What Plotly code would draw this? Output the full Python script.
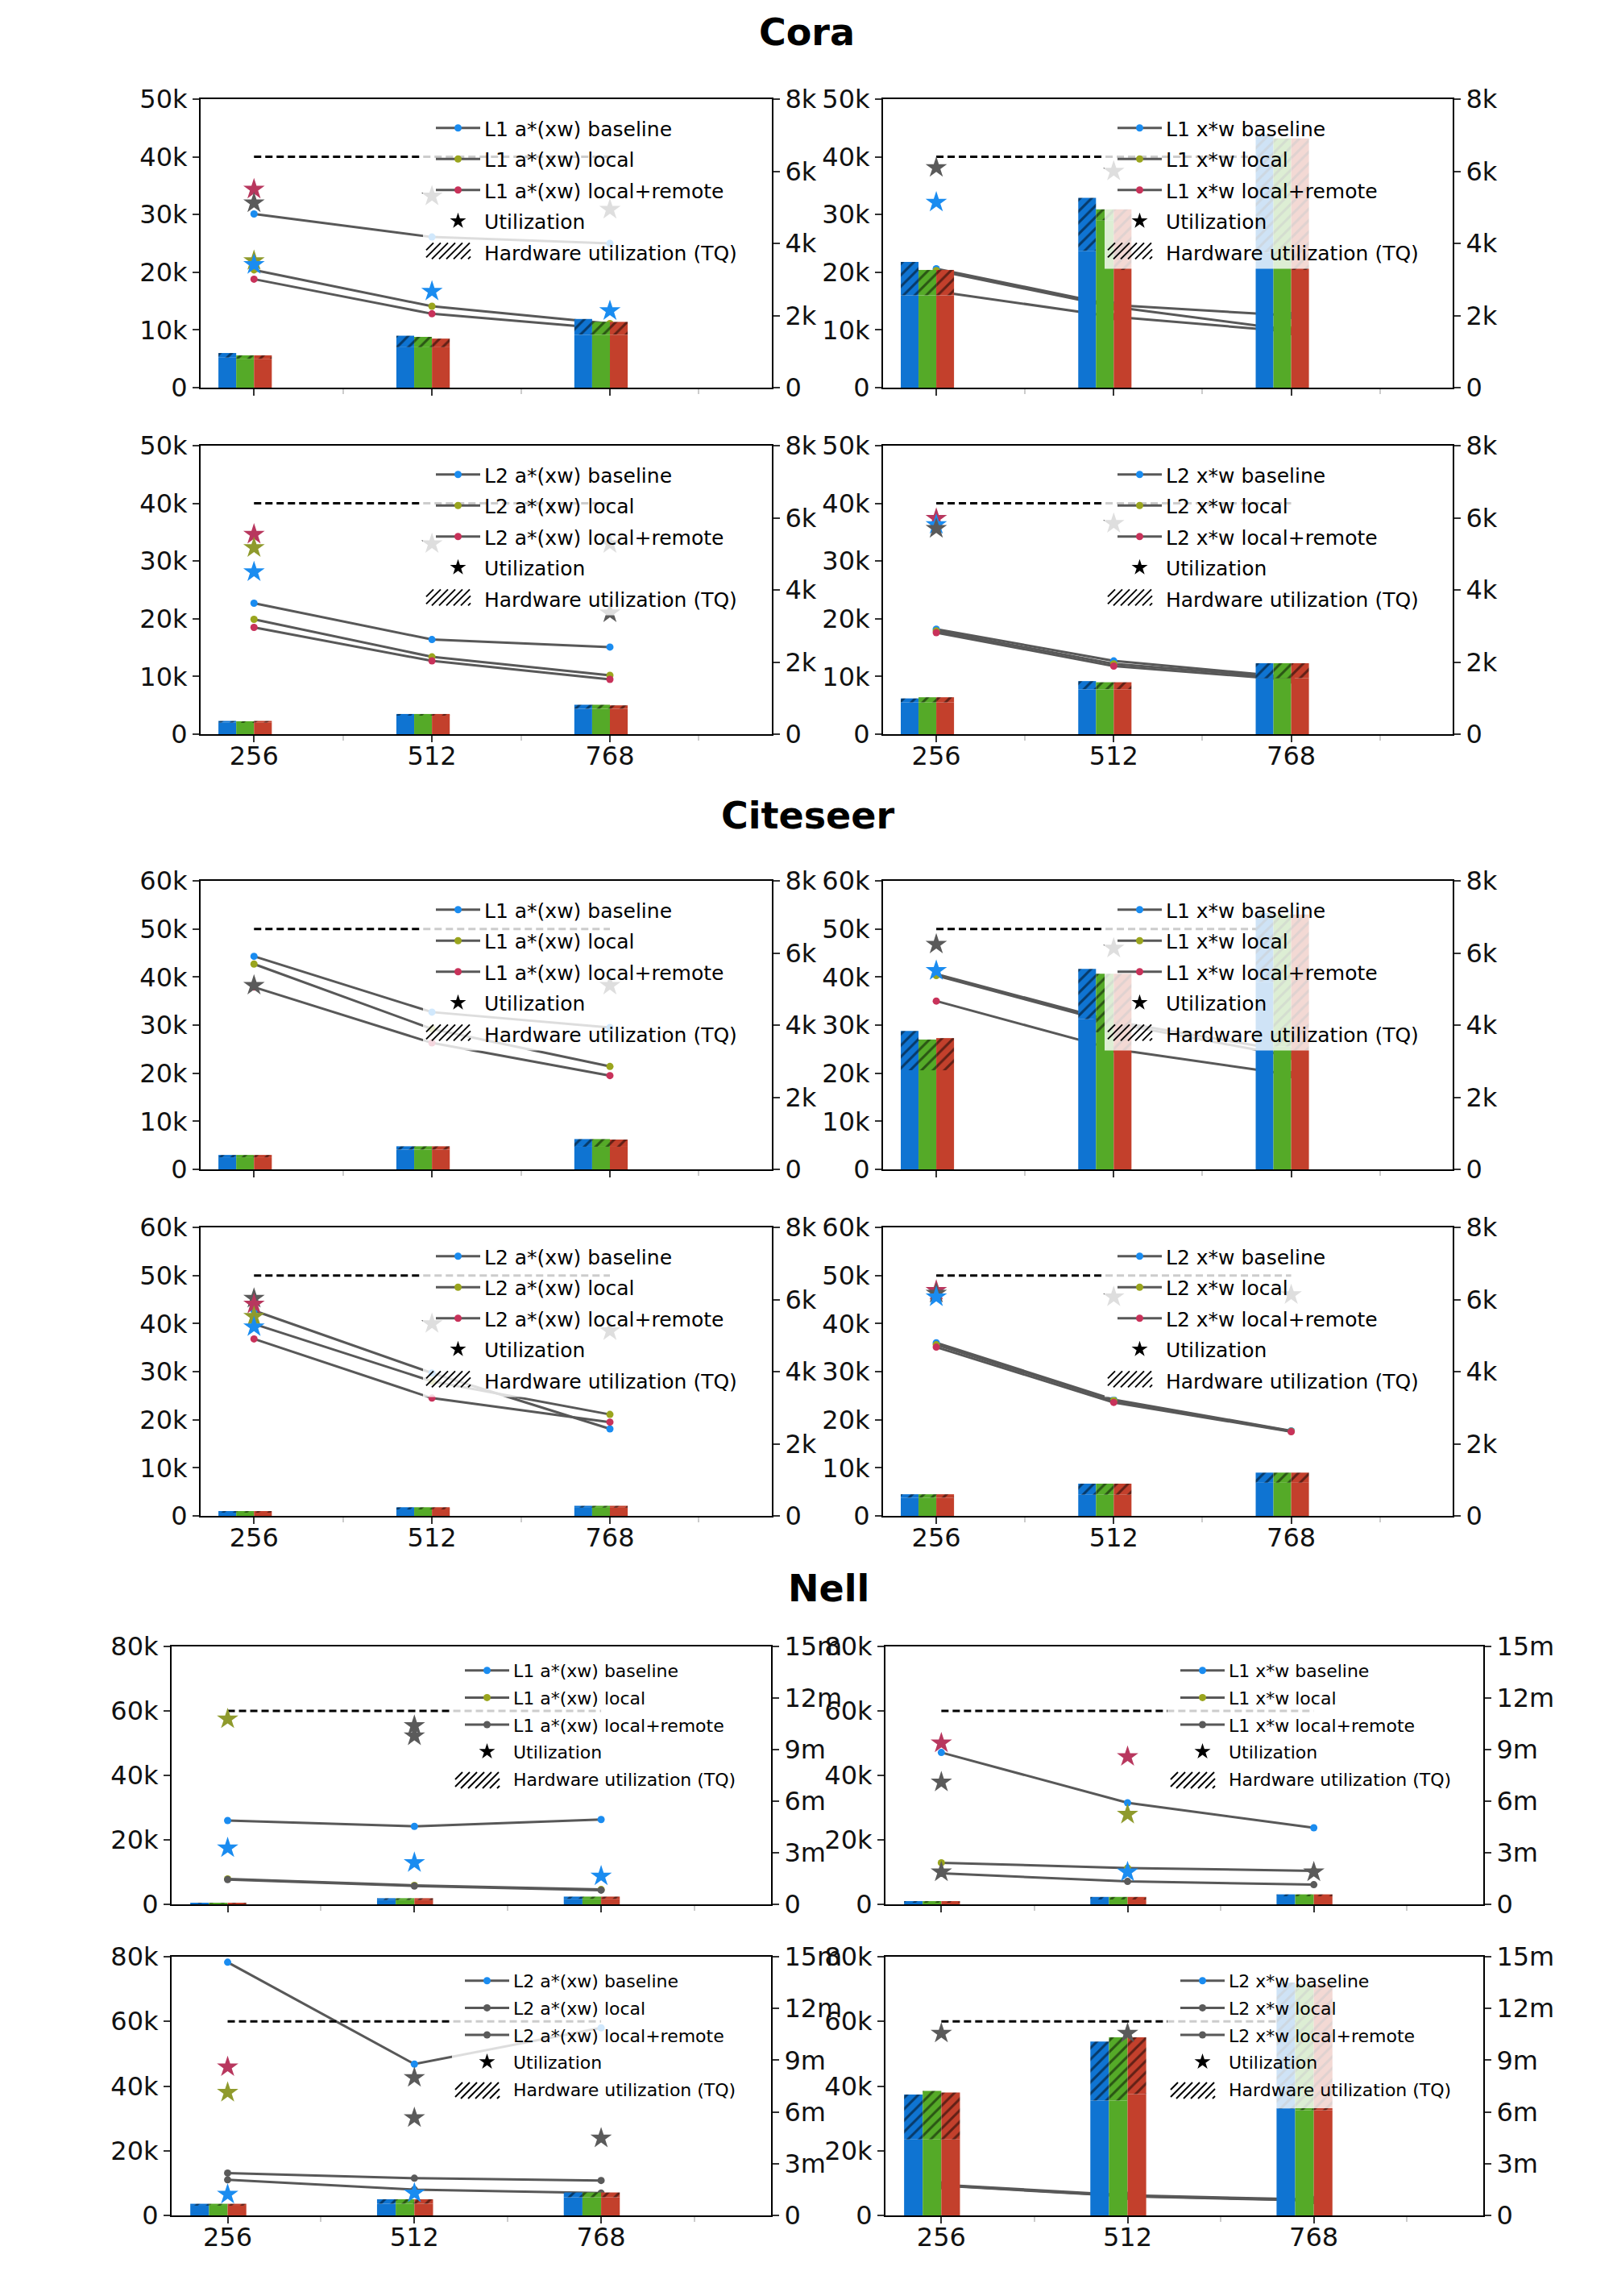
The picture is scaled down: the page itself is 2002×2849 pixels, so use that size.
import plotly.graph_objects as go

W, H = 2002, 2849
CATEGORIES = ["256", "512", "768"]
SERIES = ["baseline", "local", "local+remote"]

# ---------------- Cora ----------------
CORA_PEAK = 40000
CORA_L1_AXW_SOLID = [[5200, 7000, 9200], [5000, 7000, 9200], [5000, 7000, 9200]]
CORA_L1_AXW_TOTAL = [[6000, 9000, 11900], [5600, 8800, 11400], [5600, 8500, 11400]]
CORA_L1_AXW_LINE = [[30100, 26100, 25000], [20400, 14100, 11100], [18800, 12800, 10200]]
CORA_L1_AXW_STAR_X = ["256", "256", "256", "256", "512", "512", "768", "768"]
CORA_L1_AXW_STAR_Y = [5500, 5120, 3520, 3410, 2670, 5310, 2130, 4940]
CORA_L1_AXW_STAR_C = ["r", "k", "g", "b", "b", "k", "b", "k"]

CORA_L1_XW_SOLID = [[16000, 23700, 23400], [16000, 29000, 22500], [16000, 20400, 20400]]
CORA_L1_XW_TOTAL = [[21800, 32900, 43900], [20400, 30900, 43200], [20400, 30900, 43200]]
CORA_L1_XW_LINE = [[20600, 14300, 12500], [20300, 14000, 10000], [16700, 12300, 9700]]
CORA_L1_XW_STAR_X = ["256", "256", "512"]
CORA_L1_XW_STAR_Y = [6100, 5140, 6000]
CORA_L1_XW_STAR_C = ["k", "b", "k"]

CORA_L2_AXW_SOLID = [[2000, 3300, 4400], [2000, 3300, 4400], [2000, 3300, 4400]]
CORA_L2_AXW_TOTAL = [[2300, 3500, 5100], [2200, 3500, 5100], [2300, 3500, 5000]]
CORA_L2_AXW_LINE = [[22700, 16400, 15100], [19900, 13400, 10200], [18500, 12700, 9500]]
CORA_L2_AXW_STAR_X = ["256", "256", "256", "512", "768", "768"]
CORA_L2_AXW_STAR_Y = [5540, 5170, 4500, 5280, 5280, 3360]
CORA_L2_AXW_STAR_C = ["r", "g", "b", "k", "k", "k"]

CORA_L2_XW_SOLID = [[5500, 7800, 9700], [5500, 7800, 9700], [5500, 7800, 9700]]
CORA_L2_XW_TOTAL = [[6200, 9200, 12300], [6400, 9000, 12300], [6400, 9000, 12300]]
CORA_L2_XW_LINE = [[18200, 12700, 9900], [17900, 12200, 9700], [17600, 11800, 9400]]
CORA_L2_XW_STAR_X = ["256", "256", "256", "512"]
CORA_L2_XW_STAR_Y = [5980, 5810, 5700, 5840]
CORA_L2_XW_STAR_C = ["r", "b", "k", "k"]

# ---------------- Citeseer ----------------
CITESEER_PEAK = 50000
CITE_L1_AXW_SOLID = [[2500, 4100, 4700], [2500, 4100, 4700], [2500, 4100, 4700]]
CITE_L1_AXW_TOTAL = [[3000, 4800, 6300], [3000, 4800, 6300], [3000, 4800, 6200]]
CITE_L1_AXW_LINE = [[44300, 32700, 29500], [42700, 29200, 21400], [37900, 26300, 19500]]
CITE_L1_AXW_STAR_X = ["256", "768"]
CITE_L1_AXW_STAR_Y = [5100, 5100]
CITE_L1_AXW_STAR_C = ["k", "k"]

CITE_L1_XW_SOLID = [[20600, 31200, 39000], [20600, 28500, 25500], [20600, 24800, 24800]]
CITE_L1_XW_TOTAL = [[28800, 41700, 53300], [27000, 40700, 53000], [27300, 40700, 53000]]
CITE_L1_XW_LINE = [[40600, 30800, 24500], [40300, 30400, 23500], [35000, 25000, 19700]]
CITE_L1_XW_STAR_X = ["256", "256", "512"]
CITE_L1_XW_STAR_Y = [6240, 5510, 6130]
CITE_L1_XW_STAR_C = ["k", "b", "k"]

CITE_L2_AXW_SOLID = [[700, 1500, 1700], [700, 1500, 1700], [700, 1500, 1700]]
CITE_L2_AXW_TOTAL = [[1000, 1800, 2100], [1000, 1800, 2100], [1000, 1800, 2100]]
CITE_L2_AXW_LINE = [[42700, 29700, 18100], [39900, 28000, 21100], [36800, 24500, 19500]]
CITE_L2_AXW_STAR_X = ["256", "256", "256", "256", "512", "768"]
CITE_L2_AXW_STAR_Y = [6030, 5870, 5530, 5240, 5330, 5130]
CITE_L2_AXW_STAR_C = ["k", "r", "g", "b", "k", "k"]

CITE_L2_XW_SOLID = [[3800, 4400, 6900], [3800, 4400, 6900], [3800, 4400, 6900]]
CITE_L2_XW_TOTAL = [[4500, 6700, 9000], [4500, 6700, 9000], [4500, 6700, 9000]]
CITE_L2_XW_LINE = [[36000, 24200, 17700], [35600, 24000, 17600], [35100, 23600, 17500]]
CITE_L2_XW_STAR_X = ["256", "256", "256", "512", "768"]
CITE_L2_XW_STAR_Y = [6250, 6170, 6070, 6070, 6130]
CITE_L2_XW_STAR_C = ["r", "k", "b", "k", "k"]

# ---------------- Nell ----------------
NELL_PEAK = 60000
NELL_L1_AXW_SOLID = [[250, 1300, 1700], [250, 1300, 1700], [250, 1300, 1700]]
NELL_L1_AXW_TOTAL = [[500, 1900, 2400], [500, 1900, 2400], [500, 1900, 2400]]
NELL_L1_AXW_LINE = [[26000, 24200, 26300], [7900, 5900, 4600], [7700, 5700, 4400]]
NELL_L1_AXW_STAR_X = ["256", "256", "512", "512", "512", "768"]
NELL_L1_AXW_STAR_Y = [10.78e6, 3.28e6, 10.39e6, 9.79e6, 2.42e6, 1.64e6]
NELL_L1_AXW_STAR_C = ["g", "b", "k", "k", "b", "b"]

NELL_L1_XW_SOLID = [[500, 1500, 2500], [500, 1500, 2500], [500, 1500, 2500]]
NELL_L1_XW_TOTAL = [[800, 2300, 3100], [800, 2300, 3100], [800, 2300, 3100]]
NELL_L1_XW_LINE = [[47100, 31500, 23750], [12900, 11250, 10400], [9600, 7100, 6100]]
NELL_L1_XW_STAR_X = ["256", "256", "256", "512", "512", "512", "768"]
NELL_L1_XW_STAR_Y = [9.38e6, 7.11e6, 1.88e6, 8.59e6, 5.23e6, 1.88e6, 1.88e6]
NELL_L1_XW_STAR_C = ["r", "k", "k", "r", "g", "b", "k"]

NELL_L2_AXW_SOLID = [[3000, 3600, 5600], [3000, 3600, 5600], [3000, 3600, 5600]]
NELL_L2_AXW_TOTAL = [[3600, 5000, 7100], [3600, 5000, 7100], [3600, 5000, 7100]]
NELL_L2_AXW_LINE = [[78300, 46800, 58000], [13100, 11500, 10800], [11000, 8000, 6900]]
NELL_L2_AXW_STAR_X = ["256", "256", "256", "512", "512", "512", "768"]
NELL_L2_AXW_STAR_Y = [8.61e6, 7.13e6, 1.22e6, 7.99e6, 5.66e6, 1.29e6, 4.48e6]
NELL_L2_AXW_STAR_C = ["r", "g", "b", "k", "k", "b", "k"]

NELL_L2_XW_SOLID = [[23500, 35500, 33000], [23500, 35500, 32500], [23500, 37500, 32500]]
NELL_L2_XW_TOTAL = [[37400, 53800, 72000], [38500, 55100, 71500], [38000, 55100, 71500]]
NELL_L2_XW_LINE = [[9500, 6200, 4900], [9300, 6000, 4700], [9200, 5900, 4600]]
NELL_L2_XW_STAR_X = ["256", "512"]
NELL_L2_XW_STAR_Y = [10.56e6, 10.56e6]
NELL_L2_XW_STAR_C = ["k", "k"]

# axis tick values
SMALL_LEFT_TICKS_CORA = [0, 10000, 20000, 30000, 40000, 50000]
SMALL_LEFT_TICKS_CITE = [0, 10000, 20000, 30000, 40000, 50000, 60000]
NELL_LEFT_TICKS = [0, 20000, 40000, 60000, 80000]
KILO_RIGHT_TICKS = [0, 2000, 4000, 6000, 8000]
NELL_RIGHT_TICKS = [0, 3e6, 6e6, 9e6, 12e6, 15e6]

# ---------------- styling ----------------
BAR_COLORS = ["#0f74d2", "#55aa28", "#c3402c"]
MARK = {"b": "#1a8cf0", "g": "#9aa51e", "r": "#c8325a", "k": "#5a5a5a"}
STAR = {"b": "#1a8cf0", "g": "#8f9a2c", "r": "#b8375e", "k": "#5a5a5a"}
LINE_COLOR = "#585858"
FONT = "DejaVu Sans"

COLS_CC = [(249, 958), (1096, 1803)]
COLS_NELL = [(213, 957), (1099, 1841)]
ROWS = [(123, 481), (553, 911), (1093, 1451), (1523, 1881), (2043, 2363), (2428, 2749)]
LEG_TEXT_X_CC = [603, 1449]
LEG_TEXT_X_NELL = [639, 1527]
LEG_FIRST_Y = [157, 587, 1127, 1557, 2073, 2458]


def kfmt(v):
    return "0" if v == 0 else f"{int(v/1000)}k"


def mfmt(v):
    return "0" if v == 0 else f"{int(v/1e6)}m"


def px(x):
    return x / W


def py(y):
    return 1 - y / H


panels = [
    ("L1 a*(xw)", CORA_L1_AXW_SOLID, CORA_L1_AXW_TOTAL, CORA_L1_AXW_LINE, CORA_L1_AXW_STAR_X, CORA_L1_AXW_STAR_Y, CORA_L1_AXW_STAR_C, CORA_PEAK, "cora", 0, 0, "bgr"),
    ("L1 x*w", CORA_L1_XW_SOLID, CORA_L1_XW_TOTAL, CORA_L1_XW_LINE, CORA_L1_XW_STAR_X, CORA_L1_XW_STAR_Y, CORA_L1_XW_STAR_C, CORA_PEAK, "cora", 0, 1, "bgr"),
    ("L2 a*(xw)", CORA_L2_AXW_SOLID, CORA_L2_AXW_TOTAL, CORA_L2_AXW_LINE, CORA_L2_AXW_STAR_X, CORA_L2_AXW_STAR_Y, CORA_L2_AXW_STAR_C, CORA_PEAK, "cora", 1, 0, "bgr"),
    ("L2 x*w", CORA_L2_XW_SOLID, CORA_L2_XW_TOTAL, CORA_L2_XW_LINE, CORA_L2_XW_STAR_X, CORA_L2_XW_STAR_Y, CORA_L2_XW_STAR_C, CORA_PEAK, "cora", 1, 1, "bgr"),
    ("L1 a*(xw)", CITE_L1_AXW_SOLID, CITE_L1_AXW_TOTAL, CITE_L1_AXW_LINE, CITE_L1_AXW_STAR_X, CITE_L1_AXW_STAR_Y, CITE_L1_AXW_STAR_C, CITESEER_PEAK, "cite", 2, 0, "bgr"),
    ("L1 x*w", CITE_L1_XW_SOLID, CITE_L1_XW_TOTAL, CITE_L1_XW_LINE, CITE_L1_XW_STAR_X, CITE_L1_XW_STAR_Y, CITE_L1_XW_STAR_C, CITESEER_PEAK, "cite", 2, 1, "bgr"),
    ("L2 a*(xw)", CITE_L2_AXW_SOLID, CITE_L2_AXW_TOTAL, CITE_L2_AXW_LINE, CITE_L2_AXW_STAR_X, CITE_L2_AXW_STAR_Y, CITE_L2_AXW_STAR_C, CITESEER_PEAK, "cite", 3, 0, "bgr"),
    ("L2 x*w", CITE_L2_XW_SOLID, CITE_L2_XW_TOTAL, CITE_L2_XW_LINE, CITE_L2_XW_STAR_X, CITE_L2_XW_STAR_Y, CITE_L2_XW_STAR_C, CITESEER_PEAK, "cite", 3, 1, "bgr"),
    ("L1 a*(xw)", NELL_L1_AXW_SOLID, NELL_L1_AXW_TOTAL, NELL_L1_AXW_LINE, NELL_L1_AXW_STAR_X, NELL_L1_AXW_STAR_Y, NELL_L1_AXW_STAR_C, NELL_PEAK, "nell", 4, 0, "bgk"),
    ("L1 x*w", NELL_L1_XW_SOLID, NELL_L1_XW_TOTAL, NELL_L1_XW_LINE, NELL_L1_XW_STAR_X, NELL_L1_XW_STAR_Y, NELL_L1_XW_STAR_C, NELL_PEAK, "nell", 4, 1, "bgk"),
    ("L2 a*(xw)", NELL_L2_AXW_SOLID, NELL_L2_AXW_TOTAL, NELL_L2_AXW_LINE, NELL_L2_AXW_STAR_X, NELL_L2_AXW_STAR_Y, NELL_L2_AXW_STAR_C, NELL_PEAK, "nell", 5, 0, "bkk"),
    ("L2 x*w", NELL_L2_XW_SOLID, NELL_L2_XW_TOTAL, NELL_L2_XW_LINE, NELL_L2_XW_STAR_X, NELL_L2_XW_STAR_Y, NELL_L2_XW_STAR_C, NELL_PEAK, "nell", 5, 1, "bkk"),
]

fig = go.Figure()
layout = dict(
    width=W, height=H, margin=dict(l=0, r=0, t=0, b=0, autoexpand=False),
    paper_bgcolor="white", plot_bgcolor="white", barmode="overlay",
    font=dict(family=FONT, color="black"), showlegend=True, hovermode=False,
)
shapes = []

xpos = list(range(len(CATEGORIES)))
cat_index = {c: i for i, c in enumerate(CATEGORIES)}

for k, (name, solid, total, lines, sx, sy, sc, peak, ds, row, col, mcols) in enumerate(panels, start=1):
    xref = "x" if k == 1 else f"x{k}"
    ya = "y" if k == 1 else f"y{k}"
    yb = f"y{12 + k}"
    yc = f"y{24 + k}"
    leg = "legend" if k == 1 else f"legend{k}"
    nell = ds == "nell"
    cx0, cx1 = (COLS_NELL if nell else COLS_CC)[col]
    ry0, ry1 = ROWS[row]
    if ds == "cora":
        lt, lmax, rt, rmax, rf = SMALL_LEFT_TICKS_CORA, 50000, KILO_RIGHT_TICKS, 8000, kfmt
    elif ds == "cite":
        lt, lmax, rt, rmax, rf = SMALL_LEFT_TICKS_CITE, 60000, KILO_RIGHT_TICKS, 8000, kfmt
    else:
        lt, lmax, rt, rmax, rf = NELL_LEFT_TICKS, 80000, NELL_RIGHT_TICKS, 15e6, mfmt
    ydom = [py(ry1), py(ry0)]
    axis_common = dict(ticks="outside", ticklen=8, tickwidth=2, tickcolor="#333",
                       showline=True, linewidth=2, linecolor="black", showgrid=False,
                       zeroline=False, automargin=False,
                       tickfont=dict(size=32, family=FONT, color="#111"))
    layout["xaxis" if k == 1 else f"xaxis{k}"] = dict(
        domain=[px(cx0), px(cx1)], anchor=ya, range=[-0.3, 2.91],
        tickmode="array", tickvals=xpos, ticktext=CATEGORIES,
        showticklabels=(row % 2 == 1), mirror=True, ticklabelstandoff=-10,
        minor=dict(tickvals=[0.5, 1.5, 2.5], ticks="outside", ticklen=6, tickwidth=2, tickcolor="#cccccc"),
        **axis_common)
    layout["yaxis" if k == 1 else f"yaxis{k}"] = dict(
        domain=ydom, anchor=xref, range=[0, lmax], tickmode="array",
        tickvals=lt, ticktext=[kfmt(v) for v in lt], mirror=True, **axis_common)
    layout[f"yaxis{12 + k}"] = dict(domain=ydom, anchor=xref, overlaying=ya,
                                    range=[0, lmax], visible=False, automargin=False)
    layout[f"yaxis{24 + k}"] = dict(
        domain=ydom, anchor=xref, overlaying=ya, side="right", range=[0, rmax],
        tickmode="array", tickvals=rt, ticktext=[rf(v) for v in rt], **axis_common)

    # lines (drawn beneath the bars)
    for s in range(3):
        fig.add_trace(go.Scatter(
            x=xpos, y=lines[s], mode="lines+markers", name=f"{name} {SERIES[s]}",
            line=dict(color=LINE_COLOR, width=3),
            marker=dict(color=MARK[mcols[s]], size=9),
            xaxis=xref, yaxis=ya, legend=leg, legendgroup=f"{k}-{s}"))
    fig.add_trace(go.Scatter(
        x=[xpos[0], xpos[-1]], y=[peak, peak], mode="lines",
        line=dict(color="black", width=3, dash="9px,5px"),
        xaxis=xref, yaxis=ya, showlegend=False, hoverinfo="skip"))

    # legend-only entries
    fig.add_trace(go.Scatter(
        x=[None], y=[None], mode="markers", name="Utilization",
        marker=dict(symbol="star", size=15, color="black"),
        xaxis=xref, yaxis=yc, legend=leg, legendgroup=f"{k}-3"))
    fig.add_trace(go.Scatter(
        x=[None], y=[None], mode="markers", name="Hardware utilization (TQ)",
        marker=dict(size=2, color="white", opacity=0),
        xaxis=xref, yaxis=yc, legend=leg, legendgroup=f"{k}-4"))

    # bars: solid part + hatched part on top
    for s in range(3):
        off = -0.2 + 0.1 * s
        fig.add_trace(go.Bar(
            x=xpos, y=solid[s], width=0.1, offset=off,
            marker=dict(color=BAR_COLORS[s], line=dict(width=0)),
            xaxis=xref, yaxis=yb, showlegend=False))
        fig.add_trace(go.Bar(
            x=xpos, y=[t - b for t, b in zip(total[s], solid[s])], base=solid[s],
            width=0.1, offset=off,
            marker=dict(color=BAR_COLORS[s], line=dict(width=0),
                        pattern=dict(shape="/", fgcolor="black", bgcolor=BAR_COLORS[s], size=10, solidity=0.3)),
            xaxis=xref, yaxis=yb, showlegend=False))

    # utilization stars (right axis)
    fig.add_trace(go.Scatter(
        x=[cat_index[c] for c in sx], y=sy, mode="markers",
        marker=dict(symbol="star", size=20, color=[STAR[c] for c in sc], line=dict(width=0)),
        xaxis=xref, yaxis=yc, showlegend=False))

    # legend (transparent) + translucent backdrop and hatch glyph drawn as shapes
    tx = (LEG_TEXT_X_NELL if nell else LEG_TEXT_X_CC)[col]
    fy = LEG_FIRST_Y[row]
    fsize = 22 if nell else 25
    sp = 34 if nell else 38.6
    layout[leg] = dict(
        x=px(tx - 67), y=py(fy - 21), xanchor="left", yanchor="top",
        bgcolor="rgba(0,0,0,0)", borderwidth=0, itemwidth=55,
        tracegroupgap=2 if nell else 3,
        font=dict(size=fsize, family=FONT, color="black"))
    bx0, bx1 = tx - 78, tx + 12.9 * fsize + 8
    by0, by1 = fy - 22, fy + 4 * sp + 22
    shapes.append(dict(type="rect", xref="paper", yref="paper", layer="above",
                       x0=px(bx0), x1=px(bx1), y0=py(by1), y1=py(by0),
                       fillcolor="rgba(255,255,255,0.8)", line=dict(width=0)))
    hx0, hw, hh = tx - 74, 55, 20
    hy = fy + 4 * sp
    top, bot = hy - hh / 2, hy + hh / 2
    o = -hh
    while o < hw:
        xa, ya_ = o, bot
        xb, yb_ = o + hh, top
        if xa < 0:
            ya_ = bot + xa
            xa = 0
        if xb > hw:
            yb_ = top + (xb - hw)
            xb = hw
        if xb - xa > 1:
            shapes.append(dict(type="line", xref="paper", yref="paper", layer="above",
                               x0=px(hx0 + xa), y0=py(ya_), x1=px(hx0 + xb), y1=py(yb_),
                               line=dict(color="black", width=2)))
        o += 9

TITLES = [("Cora", 1001, 40), ("Citeseer", 1003, 1012), ("Nell", 1028, 1971)]
layout["annotations"] = [
    dict(text=f"<b>{t}</b>", x=px(x), y=py(y), xref="paper", yref="paper",
         showarrow=False, xanchor="center", yanchor="middle",
         font=dict(size=46, family=FONT, color="black"))
    for t, x, y in TITLES
]
layout["shapes"] = shapes

fig.update_layout(**layout)
fig.write_html("out.html", config={"displayModeBar": False},
               post_script="document.body.style.margin='0px';")
